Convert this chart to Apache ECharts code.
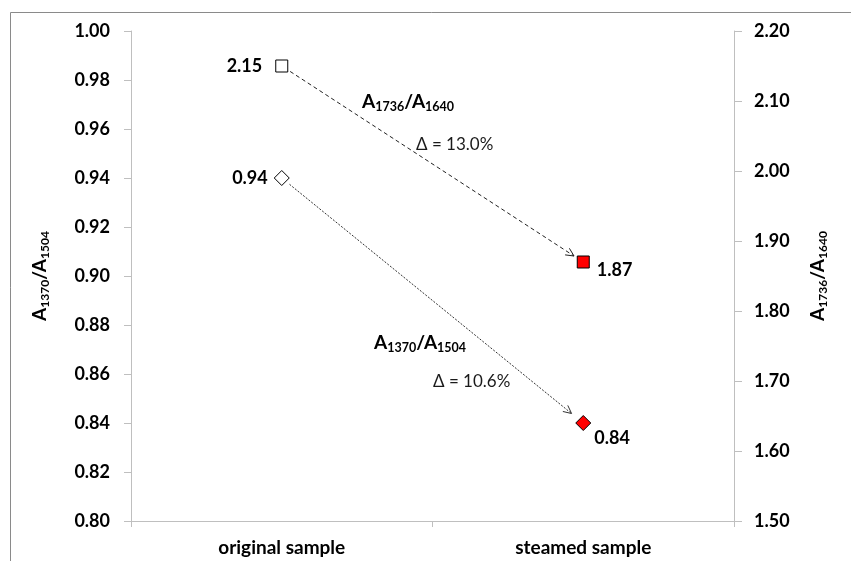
<!DOCTYPE html>
<html>
<head>
<meta charset="utf-8">
<script src="https://cdn.jsdelivr.net/npm/echarts@6/dist/echarts.min.js"></script>
<style>
  html, body { margin: 0; padding: 0; background: #fff; }
  #chart { width: 851px; height: 561px; }
</style>
</head>
<body>
<div id="chart"></div>
<script>
// Band-ratio data for the two samples
const categories = ['original sample', 'steamed sample'];
const ratio1370 = [0.94, 0.84];   // A1370/A1504, left axis
const ratio1736 = [2.15, 1.87];   // A1736/A1640, right axis
const leftTicks = { min: 0.80, max: 1.00, interval: 0.02 };
const rightTicks = { min: 1.5, max: 2.2, interval: 0.1 };
const changeTexts = ['\u0394 = 13.0%', '\u0394 = 10.6%'];

const FONT = 'Lato, "Open Sans", sans-serif';
const AXIS_GREY = '#bfbfbf';
const TEXT = '#000';

const richName = {
  b: { fontSize: 19, fontWeight: 'bold', fontFamily: FONT, color: TEXT, lineHeight: 22 },
  s: { fontSize: 12, fontWeight: 'bold', fontFamily: FONT, color: TEXT, lineHeight: 9, verticalAlign: 'bottom' }
};
const ratioName = (a, b) => `{b|A}{s|${a}}{b|/A}{s|${b}}`;

const chart = echarts.init(document.getElementById('chart'), null, { renderer: 'canvas' });

const valueLabel = (pos, dist, off) => ({
  show: true, position: pos, distance: dist, offset: off,
  fontSize: 18, fontWeight: 'bold', fontFamily: FONT, color: TEXT,
  formatter: p => Number(p.value[1]).toFixed(2)
});

const openMarker = { color: '#fff', borderColor: '#000', borderWidth: 1, opacity: 1 };
const filledMarker = { color: '#ff0000', borderColor: '#000', borderWidth: 1, opacity: 1 };

chart.setOption({
  animation: false,
  backgroundColor: '#fff',
  grid: { left: 131, right: 117, top: 31, bottom: 40 },
  xAxis: {
    type: 'category',
    data: categories,
    boundaryGap: true,
    axisLine: { lineStyle: { color: AXIS_GREY } },
    axisTick: { show: true, length: 6, lineStyle: { color: AXIS_GREY } },
    axisLabel: { fontSize: 19, fontWeight: 'bold', fontFamily: FONT, color: TEXT, margin: 17 }
  },
  yAxis: [
    {
      type: 'value', position: 'left',
      min: leftTicks.min, max: leftTicks.max, interval: leftTicks.interval,
      axisLine: { show: true, lineStyle: { color: AXIS_GREY } },
      axisTick: { show: true, length: 7, lineStyle: { color: AXIS_GREY } },
      splitLine: { show: false },
      axisLabel: {
        fontSize: 18, fontWeight: 'bold', fontFamily: FONT, color: TEXT, margin: 21,
        formatter: v => v.toFixed(2)
      },
      name: ratioName('1370', '1504'),
      nameLocation: 'middle', nameGap: 80, nameRotate: 90,
      nameTextStyle: { rich: richName }
    },
    {
      type: 'value', position: 'right',
      min: rightTicks.min, max: rightTicks.max, interval: rightTicks.interval,
      axisLine: { show: true, lineStyle: { color: AXIS_GREY } },
      axisTick: { show: true, length: 8, lineStyle: { color: AXIS_GREY } },
      splitLine: { show: false },
      axisLabel: {
        fontSize: 18, fontWeight: 'bold', fontFamily: FONT, color: TEXT, margin: 20,
        formatter: v => v.toFixed(2)
      },
      name: ratioName('1736', '1640'),
      nameLocation: 'middle', nameGap: 73, nameRotate: 90,
      nameTextStyle: { rich: richName }
    }
  ],
  series: [
    {
      name: 'A1370/A1504', type: 'scatter', yAxisIndex: 0,
      symbol: 'diamond', symbolSize: 15,
      itemStyle: { opacity: 1 },
      data: [
        { value: [0, ratio1370[0]], itemStyle: openMarker, label: valueLabel('left', 6, [0, 0]) },
        { value: [1, ratio1370[1]], itemStyle: filledMarker, label: valueLabel('right', 3, [0, 15]) }
      ],
      z: 5
    },
    {
      name: 'A1736/A1640', type: 'scatter', yAxisIndex: 1,
      symbol: 'rect', symbolSize: 12,
      itemStyle: { opacity: 1 },
      data: [
        { value: [0, ratio1736[0]], itemStyle: openMarker, label: valueLabel('left', 13, [0, 0]) },
        { value: [1, ratio1736[1]], itemStyle: filledMarker, label: valueLabel('right', 7, [0, 8]) }
      ],
      z: 5
    }
  ]
});

// Dashed arrows joining each pair of markers, trimmed back from the symbols
function arrow(a, b, startGap, endGap, dash, color) {
  const dx = b[0] - a[0], dy = b[1] - a[1];
  const len = Math.hypot(dx, dy);
  const ux = dx / len, uy = dy / len;
  const s = [a[0] + ux * startGap, a[1] + uy * startGap];
  const e = [b[0] - ux * endGap, b[1] - uy * endGap];
  const headLen = 9, ang = 0.45;
  const back = Math.atan2(-uy, -ux);
  const h1 = [e[0] + headLen * Math.cos(back + ang), e[1] + headLen * Math.sin(back + ang)];
  const h2 = [e[0] + headLen * Math.cos(back - ang), e[1] + headLen * Math.sin(back - ang)];
  return [
    { type: 'line', z: 3, shape: { x1: s[0], y1: s[1], x2: e[0], y2: e[1] },
      style: { stroke: color, lineWidth: 1, lineDash: dash } },
    { type: 'polyline', z: 3, shape: { points: [h1, e, h2] },
      style: { stroke: color, lineWidth: 1, fill: null } }
  ];
}

const toPx = (axisIdx, i, v) => chart.convertToPixel({ xAxisIndex: 0, yAxisIndex: axisIdx }, [i, v]);
const sq0 = toPx(1, 0, ratio1736[0]), sq1 = toPx(1, 1, ratio1736[1]);
const di0 = toPx(0, 0, ratio1370[0]), di1 = toPx(0, 1, ratio1370[1]);

const annoRich = {
  b: { fontSize: 19, fontWeight: 'bold', fontFamily: FONT, fill: TEXT, lineHeight: 22 },
  s: { fontSize: 12.5, fontWeight: 'bold', fontFamily: FONT, fill: TEXT, lineHeight: 9, verticalAlign: 'bottom' }
};
const nameText = (x, y, a, b) => ({
  type: 'text', x: x, y: y, z: 4,
  style: { text: ratioName(a, b), rich: annoRich, verticalAlign: 'middle', align: 'left' }
});
const deltaText = (x, y, t) => ({
  type: 'text', x: x, y: y, z: 4,
  style: { text: t, fontSize: 17, fontFamily: FONT, fill: '#1a1a1a', verticalAlign: 'middle', align: 'left' }
});

chart.setOption({
  graphic: [
    // outer frame
    { type: 'rect', z: 0, shape: { x: 10.5, y: 12.5, width: 1000, height: 1000 },
      style: { fill: null, stroke: '#8a8a8a', lineWidth: 1 } },
    ...arrow(sq0, sq1, 10, 11, [4, 3], '#222'),
    ...arrow(di0, di1, 10, 15, [2, 1.5], '#333'),
    nameText(362, 102, '1736', '1640'),
    deltaText(416, 145, changeTexts[0]),
    nameText(374, 343, '1370', '1504'),
    deltaText(433, 382, changeTexts[1])
  ]
});
</script>
</body>
</html>
